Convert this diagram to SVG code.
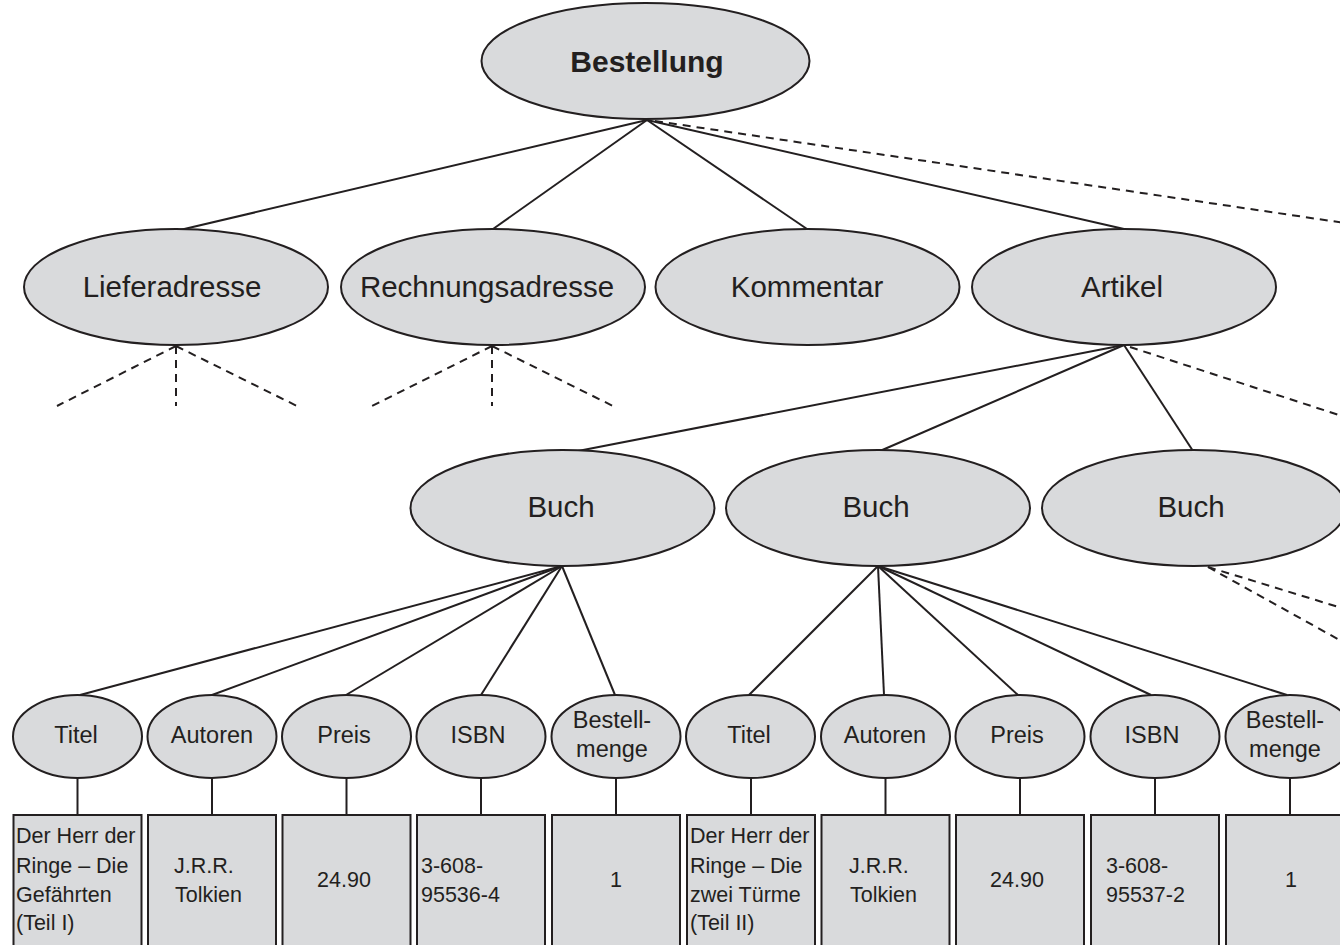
<svg xmlns="http://www.w3.org/2000/svg" width="1340" height="945" viewBox="0 0 1340 945">
  <style>
    .node { fill: #d9dadc; stroke: #231f20; stroke-width: 2; }
    .edge { stroke: #231f20; stroke-width: 2; fill: none; }
    .dash { stroke: #231f20; stroke-width: 2; fill: none; stroke-dasharray: 8 6; }
    text { font-family: "Liberation Sans", Arial, sans-serif; fill: #231f20; }
    .big { font-size: 29.5px; text-anchor: middle; }
    .root { font-size: 30px; font-weight: bold; text-anchor: middle; }
    .small { font-size: 23.5px; text-anchor: middle; }
    .val { font-size: 21.5px; }
    .mid { text-anchor: middle; }
  </style>
  <rect width="1340" height="945" fill="#ffffff"/>

  <!-- connectors -->
  <g id="connectors">
    <line class="edge" x1="647" y1="120" x2="180" y2="230"/>
    <line class="edge" x1="647" y1="120" x2="493" y2="229"/>
    <line class="edge" x1="647" y1="120" x2="807" y2="229"/>
    <line class="edge" x1="647" y1="120" x2="1124" y2="229"/>
    <line class="dash" x1="655" y1="121" x2="1345" y2="223"/>

    <line class="dash" x1="176" y1="346" x2="57" y2="406"/>
    <line class="dash" x1="176" y1="346" x2="176" y2="406"/>
    <line class="dash" x1="176" y1="346" x2="297" y2="406"/>
    <line class="dash" x1="492" y1="346" x2="372" y2="406"/>
    <line class="dash" x1="492" y1="346" x2="492" y2="406"/>
    <line class="dash" x1="492" y1="346" x2="613" y2="406"/>

    <line class="edge" x1="1124" y1="345" x2="578" y2="451"/>
    <line class="edge" x1="1124" y1="345" x2="880" y2="451"/>
    <line class="edge" x1="1124" y1="345" x2="1193" y2="451"/>
    <line class="dash" x1="1130" y1="347" x2="1345" y2="417"/>

    <line class="dash" x1="1208" y1="567" x2="1345" y2="609"/>
    <line class="dash" x1="1208" y1="567" x2="1345" y2="643"/>

    <line class="edge" x1="562" y1="566" x2="80" y2="695"/>
    <line class="edge" x1="562" y1="566" x2="212" y2="695"/>
    <line class="edge" x1="562" y1="566" x2="346" y2="695"/>
    <line class="edge" x1="562" y1="566" x2="481" y2="695"/>
    <line class="edge" x1="562" y1="566" x2="615" y2="695"/>

    <line class="edge" x1="878" y1="566" x2="749" y2="695"/>
    <line class="edge" x1="878" y1="566" x2="884" y2="695"/>
    <line class="edge" x1="878" y1="566" x2="1018" y2="695"/>
    <line class="edge" x1="878" y1="566" x2="1151" y2="695"/>
    <line class="edge" x1="878" y1="566" x2="1287" y2="695"/>

    <line class="edge" x1="77.5" y1="778" x2="77.5" y2="815"/>
    <line class="edge" x1="212" y1="778" x2="212" y2="815"/>
    <line class="edge" x1="346.5" y1="778" x2="346.5" y2="815"/>
    <line class="edge" x1="481" y1="778" x2="481" y2="815"/>
    <line class="edge" x1="616" y1="778" x2="616" y2="815"/>
    <line class="edge" x1="751" y1="778" x2="751" y2="815"/>
    <line class="edge" x1="885.5" y1="778" x2="885.5" y2="815"/>
    <line class="edge" x1="1020" y1="778" x2="1020" y2="815"/>
    <line class="edge" x1="1155" y1="778" x2="1155" y2="815"/>
    <line class="edge" x1="1290" y1="778" x2="1290" y2="815"/>
  </g>

  <!-- root -->
  <g id="bestellung">
    <ellipse class="node" cx="645.5" cy="61" rx="164" ry="58"/>
    <text class="root" x="647" y="72">Bestellung</text>
  </g>

  <!-- second level -->
  <g id="lieferadresse">
    <ellipse class="node" cx="176" cy="287" rx="152" ry="58"/>
    <text class="big" x="172" y="297">Lieferadresse</text>
  </g>
  <g id="rechnungsadresse">
    <ellipse class="node" cx="493" cy="287" rx="152" ry="58"/>
    <text class="big" x="487" y="297">Rechnungsadresse</text>
  </g>
  <g id="kommentar">
    <ellipse class="node" cx="807.5" cy="287" rx="152" ry="58"/>
    <text class="big" x="807" y="297">Kommentar</text>
  </g>
  <g id="artikel">
    <ellipse class="node" cx="1124" cy="287" rx="152" ry="58"/>
    <text class="big" x="1122" y="297">Artikel</text>
  </g>

  <!-- books -->
  <g id="buch1">
    <ellipse class="node" cx="562.5" cy="508" rx="152" ry="58"/>
    <text class="big" x="561" y="517">Buch</text>
  </g>
  <g id="buch2">
    <ellipse class="node" cx="878" cy="508" rx="152" ry="58"/>
    <text class="big" x="876" y="517">Buch</text>
  </g>
  <g id="buch3">
    <ellipse class="node" cx="1194" cy="508" rx="152" ry="58"/>
    <text class="big" x="1191" y="517">Buch</text>
  </g>

  <!-- attributes of first book -->
  <g id="titel1">
    <ellipse class="node" cx="77.5" cy="736.5" rx="64.5" ry="41.5"/>
    <text class="small" x="76" y="743">Titel</text>
  </g>
  <g id="autoren1">
    <ellipse class="node" cx="212" cy="736.5" rx="64.5" ry="41.5"/>
    <text class="small" x="212" y="743">Autoren</text>
  </g>
  <g id="preis1">
    <ellipse class="node" cx="346.5" cy="736.5" rx="64.5" ry="41.5"/>
    <text class="small" x="344" y="743">Preis</text>
  </g>
  <g id="isbn1">
    <ellipse class="node" cx="481" cy="736.5" rx="64.5" ry="41.5"/>
    <text class="small" x="478" y="743">ISBN</text>
  </g>
  <g id="bestellmenge1">
    <ellipse class="node" cx="616" cy="736.5" rx="64.5" ry="41.5"/>
    <text class="small" x="612" y="728">Bestell-</text>
    <text class="small" x="612" y="757">menge</text>
  </g>

  <!-- attributes of second book -->
  <g id="titel2">
    <ellipse class="node" cx="750.5" cy="736.5" rx="64.5" ry="41.5"/>
    <text class="small" x="749" y="743">Titel</text>
  </g>
  <g id="autoren2">
    <ellipse class="node" cx="885.5" cy="736.5" rx="64.5" ry="41.5"/>
    <text class="small" x="885" y="743">Autoren</text>
  </g>
  <g id="preis2">
    <ellipse class="node" cx="1020" cy="736.5" rx="64.5" ry="41.5"/>
    <text class="small" x="1017" y="743">Preis</text>
  </g>
  <g id="isbn2">
    <ellipse class="node" cx="1155" cy="736.5" rx="64.5" ry="41.5"/>
    <text class="small" x="1152" y="743">ISBN</text>
  </g>
  <g id="bestellmenge2">
    <ellipse class="node" cx="1290" cy="736.5" rx="64.5" ry="41.5"/>
    <text class="small" x="1285" y="728">Bestell-</text>
    <text class="small" x="1285" y="757">menge</text>
  </g>

  <!-- values of first book -->
  <g id="wert-titel1">
    <rect class="node" x="13.5" y="815" width="128" height="150"/>
    <text class="val" x="16" y="843">Der Herr der</text>
    <text class="val" x="16" y="873">Ringe – Die</text>
    <text class="val" x="16" y="902">Gefährten</text>
    <text class="val" x="16" y="930">(Teil I)</text>
  </g>
  <g id="wert-autoren1">
    <rect class="node" x="148" y="815" width="128" height="150"/>
    <text class="val" x="174" y="873">J.R.R.</text>
    <text class="val" x="175" y="902">Tolkien</text>
  </g>
  <g id="wert-preis1">
    <rect class="node" x="282.5" y="815" width="128" height="150"/>
    <text class="val mid" x="344" y="887">24.90</text>
  </g>
  <g id="wert-isbn1">
    <rect class="node" x="417" y="815" width="128" height="150"/>
    <text class="val" x="421" y="873">3-608-</text>
    <text class="val" x="421" y="902">95536-4</text>
  </g>
  <g id="wert-menge1">
    <rect class="node" x="552" y="815" width="128" height="150"/>
    <text class="val mid" x="616" y="887">1</text>
  </g>

  <!-- values of second book -->
  <g id="wert-titel2">
    <rect class="node" x="687" y="815" width="128" height="150"/>
    <text class="val" x="690" y="843">Der Herr der</text>
    <text class="val" x="690" y="873">Ringe – Die</text>
    <text class="val" x="690" y="902">zwei Türme</text>
    <text class="val" x="690" y="930">(Teil II)</text>
  </g>
  <g id="wert-autoren2">
    <rect class="node" x="821.5" y="815" width="128" height="150"/>
    <text class="val" x="849" y="873">J.R.R.</text>
    <text class="val" x="850" y="902">Tolkien</text>
  </g>
  <g id="wert-preis2">
    <rect class="node" x="956" y="815" width="128" height="150"/>
    <text class="val mid" x="1017" y="887">24.90</text>
  </g>
  <g id="wert-isbn2">
    <rect class="node" x="1091" y="815" width="128" height="150"/>
    <text class="val" x="1106" y="873">3-608-</text>
    <text class="val" x="1106" y="902">95537-2</text>
  </g>
  <g id="wert-menge2">
    <rect class="node" x="1226" y="815" width="128" height="150"/>
    <text class="val mid" x="1291" y="887">1</text>
  </g>
</svg>
